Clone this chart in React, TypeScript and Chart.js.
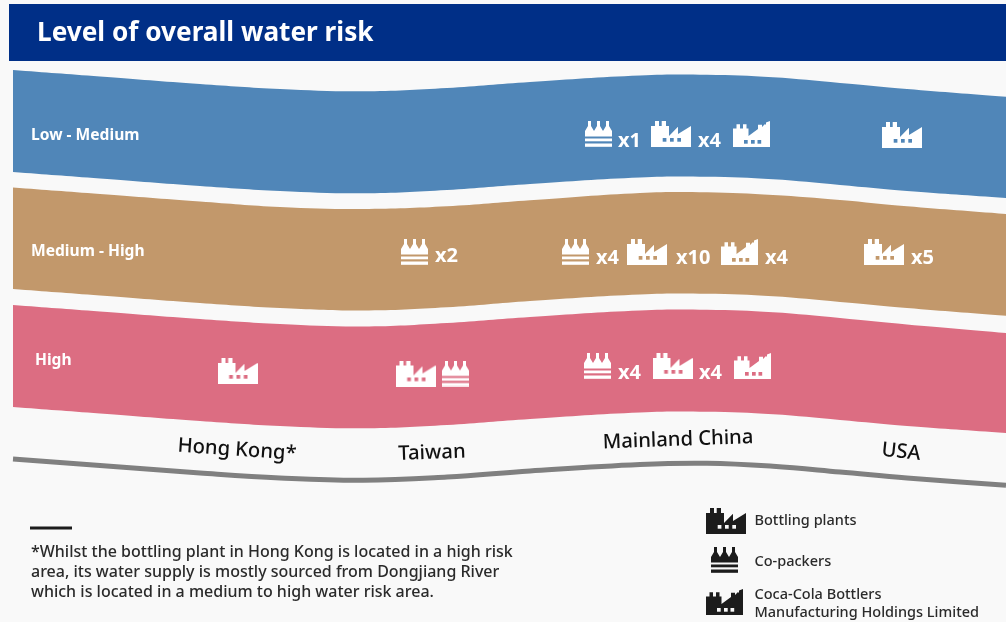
import React, { useEffect, useRef } from "react";
import Chart from "chart.js/auto";

// Shared horizontal stations for every wavy band edge.
const edgeX = [13, 100, 200, 280, 363, 447, 530, 640, 707, 773, 840, 907, 1006];
const lowTop = [70, 76.5, 84, 89, 91.3, 88, 82, 75.5, 74.8, 77.3, 83, 89, 96.8];
const lowBottom = [172, 178.5, 186, 191, 193.3, 190, 184, 177.5, 176.8, 179.3, 185, 191, 198];
const midTop = [187.5, 194, 201.5, 207, 209, 206.3, 200.3, 193, 192.3, 195, 200, 206.3, 214];
const midBottom = [289, 295.5, 303, 308, 310.5, 307.3, 301, 294.5, 293.8, 296.3, 302, 308, 315.8];
const highTop = [305, 311.5, 319, 324, 326.5, 323, 317, 310.5, 309.8, 312.3, 318, 324.5, 333];
const highBottom = [407, 413.5, 421, 426, 428.3, 425, 419, 412.5, 411.8, 414.3, 420, 426, 433];
const baseLine = [459, 465.5, 473, 478, 480.3, 477, 471, 464.5, 463.3, 466.3, 472, 478, 485.3];

const bandColors = { low: "#5086b8", mid: "#c2986b", high: "#dc6d82" };

// Facility markers inside the bands: [x, y]
const plantMarks = [[671, 134], [902, 135], [647, 252], [884, 252], [237.5, 371], [415.5, 373.5], [672.5, 366]];
const packerMarks = [[598.5, 134], [414.5, 252], [575.5, 252], [455.5, 373.5], [597.5, 366]];
const ccbMarks = [[751.5, 134], [739.5, 252], [752.5, 366]];

// Key markers
const plantKey = [[726, 521]];
const packerKey = [[724.5, 560]];
const ccbKey = [[724.5, 602]];

const noteRule = [[30, 528], [72, 528]];

const titleText = "Level of overall water risk";
const riskLabels: [string, number, number][] = [
  ["Low - Medium", 31, 136],
  ["Medium - High", 31, 252],
  ["High", 35, 361],
];
const countLabels: [string, number, number][] = [
  ["x1", 618, 141],
  ["x4", 698, 141],
  ["x2", 435, 256],
  ["x4", 596, 258],
  ["x10", 676, 258],
  ["x4", 765, 258],
  ["x5", 911, 258],
  ["x4", 618, 373],
  ["x4", 699, 373],
];
const regionLabels: [string, number, number, number][] = [
  ["Hong Kong*", 237, 450, 4],
  ["Taiwan", 432, 453, -2],
  ["Mainland China", 678, 440, -2],
  ["USA", 901, 452, 6],
];
const keyLabels: [string, number, number][] = [
  ["Bottling plants", 754.5, 521],
  ["Co-packers", 754.5, 562],
  ["Coca-Cola Bottlers", 754.5, 595],
  ["Manufacturing Holdings Limited", 754.5, 613],
];
const noteLines: [string, number, number][] = [
  ["*Whilst the bottling plant in Hong Kong is located in a high risk", 31, 552],
  ["area, its water supply is mostly sourced from Dongjiang River", 31, 572],
  ["which is located in a medium to high water risk area.", 31, 592],
];

const FONT = '"Noto Sans", sans-serif';

function stamp(w: number, h: number, draw: (c: CanvasRenderingContext2D) => void) {
  const cv = document.createElement("canvas");
  cv.width = w;
  cv.height = h;
  draw(cv.getContext("2d")!);
  return cv;
}

function shape(c: CanvasRenderingContext2D, pts: number[][]) {
  c.beginPath();
  pts.forEach(([x, y], i) => (i ? c.lineTo(x, y) : c.moveTo(x, y)));
  c.closePath();
  c.fill();
}

function factoryIcon(color: string) {
  return stamp(40, 26, (c) => {
    c.fillStyle = color;
    shape(c, [[0, 26], [0, 5], [4, 5], [4, 0], [8, 0], [8, 5], [10.7, 5], [10.7, 0], [15, 0], [15, 5], [18, 5], [18, 15], [27, 5.7], [27, 13], [40, 5], [40, 26]]);
    c.globalCompositeOperation = "destination-out";
    [11.7, 19, 26.3].forEach((x) => c.fillRect(x, 17, 3.7, 3.7));
  });
}

function ccbIcon(color: string) {
  return stamp(37, 26, (c) => {
    c.fillStyle = color;
    shape(c, [[0, 26], [0, 7.5], [3.5, 7.5], [3.5, 3.3], [7, 3.3], [7, 7.5], [10, 7.5], [10, 3.3], [13.5, 3.3], [13.5, 7.5], [15.5, 7.5], [15.5, 15], [25, 8], [25, 3.8], [29, 3.8], [29, 6], [32, 3], [33, 4], [33, 1.5], [37, 0], [37, 26]]);
    c.globalCompositeOperation = "destination-out";
    [11, 18, 24.5].forEach((x) => c.fillRect(x, 19, 3.7, 3.7));
  });
}

function packerIcon(color: string) {
  return stamp(27, 26, (c) => {
    c.fillStyle = color;
    [4.5, 13.5, 22.5].forEach((m) => {
      shape(c, [[m - 1.5, 0], [m + 1.5, 0], [m + 1.5, 5], [m + 4.5, 10], [m + 4.5, 15.5], [m - 4.5, 15.5], [m - 4.5, 10], [m - 1.5, 5]]);
    });
    c.fillRect(0, 17.5, 27, 2.8);
    c.fillRect(0, 22.5, 27, 3.3);
  });
}

const toPoints = (ys: number[]) => ys.map((y, i) => ({ x: edgeX[i], y }));
const toMarks = (pts: number[][]) => pts.map(([x, y]) => ({ x, y }));

const edge = (label: string, ys: number[], color: string | null) => ({
  label,
  data: toPoints(ys),
  order: 2,
  borderWidth: 0,
  borderColor: "transparent",
  backgroundColor: color ?? "transparent",
  fill: color ? { target: "+1" } : false,
  pointRadius: 0,
  tension: 0.4,
});

const marks = (label: string, pts: number[][], icon: HTMLCanvasElement) => ({
  label,
  data: toMarks(pts),
  order: 0,
  showLine: false,
  pointStyle: icon,
  pointRadius: 10,
  pointHoverRadius: 10,
});

export default function App() {
  const ref = useRef<HTMLCanvasElement>(null);

  useEffect(() => {
    document.body.style.margin = "0";
    document.body.style.background = "#f9f9f9";

    // Header strip and every text layer; positions go through the chart's scales.
    const furniture = {
      id: "furniture",
      beforeDraw(chart: any) {
        const { ctx, scales } = chart;
        const X = (v: number) => scales.x.getPixelForValue(v);
        const Y = (v: number) => scales.y.getPixelForValue(v);
        ctx.save();
        ctx.fillStyle = "#f9f9f9";
        ctx.fillRect(0, 0, chart.width, chart.height);
        ctx.fillStyle = "#002f87";
        ctx.fillRect(X(9), Y(4), X(1006) - X(9), Y(61) - Y(4));
        ctx.restore();
      },
      afterDraw(chart: any) {
        const { ctx, scales } = chart;
        const X = (v: number) => scales.x.getPixelForValue(v);
        const Y = (v: number) => scales.y.getPixelForValue(v);
        const put = (t: string, x: number, y: number, font: string, color: string) => {
          ctx.font = font;
          ctx.fillStyle = color;
          ctx.fillText(t, X(x), Y(y));
        };
        ctx.save();
        ctx.textBaseline = "middle";
        ctx.textAlign = "left";
        put(titleText, 37, 34, `700 26.2px ${FONT}`, "#ffffff");
        riskLabels.forEach(([t, x, y]) => put(t, x, y, `700 15.6px ${FONT}`, "#ffffff"));
        countLabels.forEach(([t, x, y]) => put(t, x, y, `700 20px ${FONT}`, "#ffffff"));
        keyLabels.forEach(([t, x, y]) => put(t, x, y, `500 14.5px ${FONT}`, "#2a2a2a"));
        noteLines.forEach(([t, x, y]) => put(t, x, y, `500 16px ${FONT}`, "#2a2a2a"));
        regionLabels.forEach(([t, x, y, deg]) => {
          ctx.save();
          ctx.translate(X(x), Y(y));
          ctx.rotate((deg * Math.PI) / 180);
          ctx.textAlign = "center";
          ctx.font = `500 20.2px ${FONT}`;
          ctx.fillStyle = "#111111";
          ctx.fillText(t, 0, 0);
          ctx.restore();
        });
        ctx.restore();
      },
    };

    const white = "#ffffff";
    const ink = "#1c1c1c";
    const chart = new Chart(ref.current!, {
      type: "line",
      data: {
        datasets: [
          edge("Low - Medium", lowTop, bandColors.low),
          edge("Low - Medium lower", lowBottom, null),
          edge("Medium - High", midTop, bandColors.mid),
          edge("Medium - High lower", midBottom, null),
          edge("High", highTop, bandColors.high),
          edge("High lower", highBottom, null),
          {
            label: "Baseline",
            data: toPoints(baseLine),
            order: 1,
            borderColor: "#808080",
            borderWidth: 5,
            pointRadius: 0,
            fill: false,
            tension: 0.4,
          },
          {
            label: "Note rule",
            data: toMarks(noteRule),
            order: 1,
            borderColor: "#1c1c1c",
            borderWidth: 3,
            pointRadius: 0,
            fill: false,
          },
          marks("Bottling plants", plantMarks, factoryIcon(white)),
          marks("Co-packers", packerMarks, packerIcon(white)),
          marks("Coca-Cola Bottlers Manufacturing Holdings Limited", ccbMarks, ccbIcon(white)),
          marks("Bottling plants key", plantKey, factoryIcon(ink)),
          marks("Co-packers key", packerKey, packerIcon(ink)),
          marks("CCBMH key", ccbKey, ccbIcon(ink)),
        ] as any,
      },
      options: {
        animation: false,
        responsive: false,
        layout: { padding: 0, autoPadding: false },
        events: [],
        plugins: {
          legend: { display: false },
          tooltip: { enabled: false },
          title: { display: false },
          filler: { drawTime: "beforeDatasetsDraw" },
        },
        scales: {
          x: { type: "linear", display: false, min: 0, max: 1006 },
          y: { type: "linear", display: false, min: 0, max: 622, reverse: true },
        },
      } as any,
      plugins: [furniture],
    });
    return () => chart.destroy();
  }, []);

  return <canvas ref={ref} width={1006} height={622} style={{ display: "block" }} />;
}
